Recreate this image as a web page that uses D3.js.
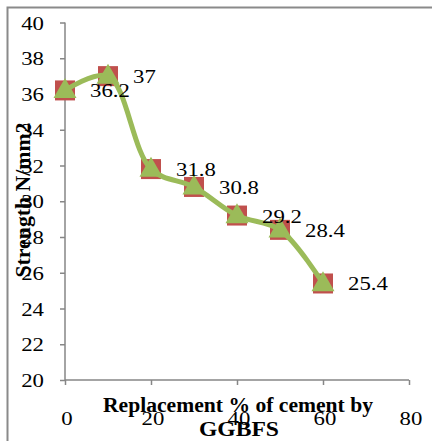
<!DOCTYPE html>
<html>
<head>
<meta charset="utf-8">
<script src="https://cdn.jsdelivr.net/npm/d3@7"></script>
<style>
  html, body { margin: 0; padding: 0; background: #fff; }
  svg { display: block; }
</style>
</head>
<body>
<svg id="chart" width="432" height="441"></svg>
<script>
// GGBFS replacement (%) vs compressive strength (N/mm2)
const replacement = [0, 10, 20, 30, 40, 50, 60];
const strength = [36.2, 37, 31.8, 30.8, 29.2, 28.4, 25.4];
const xTicks = [0, 20, 40, 60, 80];
const yTicks = [20, 22, 24, 26, 28, 30, 32, 34, 36, 38, 40];
const xTitleLines = ["Replacement % of cement by", "GGBFS"];
const yTitle = "Strength N/mm2";

const FONT = "Liberation Serif";
const svg = d3.select("#chart");
const W = 432, H = 441;
const axisColor = "#868686";
const sx = 1.2; // horizontal stretch of all text

// outer chart frame
svg.append("rect")
  .attr("x", 7.5).attr("y", 7.5)
  .attr("width", W + 10).attr("height", H + 10)
  .attr("fill", "none").attr("stroke", "#8a8a8a").attr("stroke-width", 2);

const x = d3.scaleLinear().domain([0, 80]).range([65, 409]);
const y = d3.scaleLinear().domain([20, 40]).range([380, 22.5]);

function label(g, tx, ty, str, anchor, size, weight) {
  return g.append("text")
    .attr("transform", `translate(${tx},${ty}) scale(${sx},1)`)
    .attr("text-anchor", anchor)
    .attr("font-family", FONT)
    .attr("font-size", size)
    .attr("font-weight", weight || "normal")
    .attr("fill", "#000")
    .text(str);
}

// y axis
const yAxis = svg.append("g").attr("transform", `translate(${x(0)},0)`)
  .call(d3.axisLeft(y).tickValues(yTicks).tickSize(5).tickFormat(""));
yAxis.select(".domain").attr("stroke", axisColor).attr("stroke-width", 1.5)
  .attr("d", `M0,${y(40)}V${y(20)}`);
yAxis.selectAll(".tick line").attr("stroke", axisColor).attr("stroke-width", 1.5);

// x axis
const xAxis = svg.append("g").attr("transform", `translate(0,${y(20)})`)
  .call(d3.axisBottom(x).tickValues(xTicks).tickSize(5).tickFormat(""));
xAxis.select(".domain").attr("stroke", axisColor).attr("stroke-width", 1.5)
  .attr("d", `M${x(0)},0H${x(80)}`);
xAxis.selectAll(".tick line").attr("stroke", axisColor).attr("stroke-width", 1.5);

const tl = svg.append("g");
yTicks.forEach(v => label(tl, 44, y(v) + 7, String(v), "end", 19));

// x title (drawn before x tick labels, which overprint it)
const xt = svg.append("g");
xt.append("text")
  .attr("x", 238).attr("y", 412)
  .attr("text-anchor", "middle")
  .attr("font-family", FONT)
  .attr("font-size", 20).attr("font-weight", "bold")
  .attr("textLength", 270).attr("lengthAdjust", "spacingAndGlyphs")
  .text(xTitleLines[0]);
xt.append("text")
  .attr("x", 239).attr("y", 436)
  .attr("text-anchor", "middle")
  .attr("font-family", FONT)
  .attr("font-size", 20).attr("font-weight", "bold")
  .attr("textLength", 80).attr("lengthAdjust", "spacingAndGlyphs")
  .text(xTitleLines[1]);

xTicks.forEach(v => label(tl, x(v) + 2, 425, String(v), "middle", 19));

// y title
svg.append("text")
  .attr("transform", "translate(30,200) rotate(-90)")
  .attr("text-anchor", "middle")
  .attr("font-family", FONT)
  .attr("font-size", 20).attr("font-weight", "bold")
  .attr("textLength", 155).attr("lengthAdjust", "spacingAndGlyphs")
  .text(yTitle);

const pts = replacement.map((r, i) => [r, strength[i]]);

// series 1: red square markers
svg.append("g").selectAll("rect").data(pts).join("rect")
  .attr("x", d => x(d[0]) - 10).attr("y", d => y(d[1]) - 10)
  .attr("width", 20).attr("height", 20)
  .attr("fill", "#c0504d");

// series 2: smoothed green line with triangle markers
const line = d3.line().x(d => x(d[0])).y(d => y(d[1]))
  .curve(d3.curveCatmullRom.alpha(0.5));
svg.append("path").datum(pts)
  .attr("d", line)
  .attr("fill", "none").attr("stroke", "#9bbb59")
  .attr("stroke-width", 5).attr("stroke-linejoin", "round");

const tri = d3.symbol().type(d3.symbolTriangle).size(230);
svg.append("g").selectAll("path").data(pts).join("path")
  .attr("transform", d => `translate(${x(d[0])},${y(d[1]) + 1})`)
  .attr("d", tri)
  .attr("fill", "#9bbb59");

// value labels to the right of each point
const vl = svg.append("g");
pts.forEach(d => label(vl, x(d[0]) + 25, y(d[1]) + 7, String(d[1]), "start", 19));
</script>
</body>
</html>
